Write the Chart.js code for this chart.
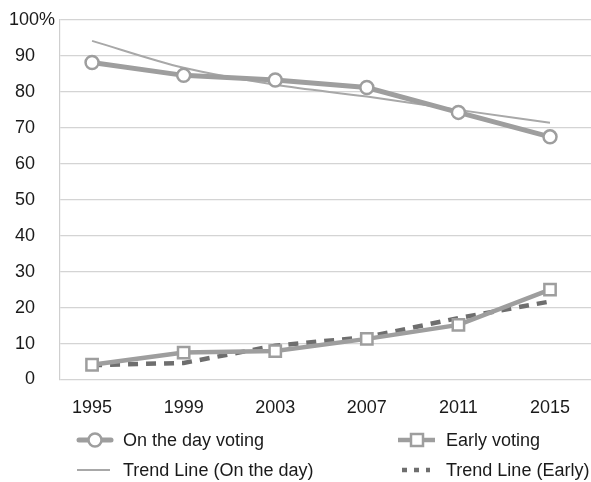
<!DOCTYPE html>
<html>
<head>
<meta charset="utf-8">
<script src="https://cdn.jsdelivr.net/npm/chart.js@4/dist/chart.umd.min.js"></script>
<style>
  html, body { margin: 0; padding: 0; background: #fff; }
  #wrap { position: relative; width: 591px; height: 482px; font-family: "Liberation Sans", Arial, sans-serif; color: #1a1a1a; }
  #chart { position: absolute; left: 0; top: 0; }
  .leg { position: absolute; font-size: 18px; line-height: 22px; height: 22px; white-space: nowrap; }
  .leg svg { position: absolute; left: 0; top: 0; }
  .leg span { position: absolute; top: 0; }
</style>
</head>
<body>
<div id="wrap">
  <canvas id="chart" width="591" height="482"></canvas>
  <div class="leg" style="left:76px; top:429px; width:260px;">
    <svg width="38" height="22"><line x1="3" y1="11" x2="35" y2="11" stroke="#9e9e9e" stroke-width="5" stroke-linecap="round"/><circle cx="19" cy="11" r="6.5" fill="#fff" stroke="#9e9e9e" stroke-width="2.5"/></svg>
    <span style="left:47px;">On the day voting</span>
  </div>
  <div class="leg" style="left:397px; top:429px; width:194px;">
    <svg width="40" height="22"><line x1="1" y1="11" x2="38" y2="11" stroke="#9e9e9e" stroke-width="4.5"/><rect x="14" y="5" width="12" height="12" fill="#fff" stroke="#9e9e9e" stroke-width="2.5"/></svg>
    <span style="left:49px;">Early voting</span>
  </div>
  <div class="leg" style="left:76px; top:459px; width:260px;">
    <svg width="38" height="22"><line x1="1" y1="11" x2="34" y2="11" stroke="#a8a8a8" stroke-width="2"/></svg>
    <span style="left:47px;">Trend Line (On the day)</span>
  </div>
  <div class="leg" style="left:397px; top:459px; width:194px;">
    <svg width="40" height="22"><line x1="5" y1="11" x2="33" y2="11" stroke="#6e6e6e" stroke-width="4.5" stroke-dasharray="5,7"/></svg>
    <span style="left:49px;">Trend Line (Early)</span>
  </div>
</div>
<script>
// Election years
const years = [1995, 1999, 2003, 2007, 2011, 2015];
// Share of votes cast on election day (%)
const onTheDay = [88.2, 84.6, 83.3, 81.2, 74.3, 67.5];
// Share of votes cast early (%)
const early = [4.1, 7.5, 7.9, 11.3, 15.2, 25.0];
// Fitted trend lines (%)
const trendOnTheDay = [94.2, 86.7, 82.0, 78.7, 75.0, 71.4];
const trendEarly = [4.0, 4.6, 9.4, 11.8, 17.1, 21.7];
// Y axis tick values
const yTicks = [0, 10, 20, 30, 40, 50, 60, 70, 80, 90, 100];

const pts = (vals) => years.map((yr, i) => ({ x: yr, y: vals[i] }));
const tickFont = { family: 'Liberation Sans', size: 18 };

// Stretch the plot area to the right edge of the canvas
const fullWidth = {
  id: 'fullWidth',
  afterLayout(chart) {
    const area = chart.chartArea;
    const x = chart.scales.x;
    const right = chart.width;
    if (area.right !== right) {
      area.right = right;
      area.width = right - area.left;
      x.right = right;
      x.width = right - x.left;
      x.configure();
    }
  }
};

new Chart(document.getElementById('chart'), {
  type: 'line',
  plugins: [fullWidth],
  data: {
    datasets: [
      {
        label: 'On the day voting',
        data: pts(onTheDay),
        borderColor: '#9e9e9e',
        borderWidth: 5,
        pointStyle: 'circle',
        pointRadius: 6.5,
        pointBorderWidth: 2.5,
        pointBackgroundColor: '#fff',
        pointBorderColor: '#9e9e9e',
        tension: 0
      },
      {
        label: 'Early voting',
        data: pts(early),
        borderColor: '#9e9e9e',
        borderWidth: 4.5,
        pointStyle: 'rect',
        pointRadius: 8,
        pointBorderWidth: 2.5,
        pointBackgroundColor: '#fff',
        pointBorderColor: '#9e9e9e',
        tension: 0
      },
      {
        label: 'Trend Line (On the day)',
        data: pts(trendOnTheDay),
        borderColor: '#a8a8a8',
        borderWidth: 2,
        pointRadius: 0,
        cubicInterpolationMode: 'monotone'
      },
      {
        label: 'Trend Line (Early)',
        data: pts(trendEarly),
        borderColor: '#6e6e6e',
        borderWidth: 4.5,
        borderDash: [10, 8],
        pointRadius: 0,
        tension: 0
      }
    ]
  },
  options: {
    responsive: false,
    animation: false,
    layout: { padding: { top: 20, right: 0, bottom: 0, left: 0 } },
    plugins: { legend: { display: false }, tooltip: { enabled: false } },
    scales: {
      x: {
        type: 'linear',
        min: 1993.6,
        max: 2016.79,
        afterBuildTicks: (axis) => { axis.ticks = years.map(v => ({ value: v })); },
        afterFit: (axis) => { axis.paddingLeft = 0; axis.paddingRight = 0; axis.height = 102.5; },
        grid: { display: false, drawTicks: false },
        border: { display: false },
        ticks: {
          padding: 18,
          color: '#1a1a1a',
          font: tickFont,
          callback: (v) => String(v)
        }
      },
      y: {
        min: 0,
        max: 100,
        afterBuildTicks: (axis) => { axis.ticks = yTicks.map(v => ({ value: v })); },
        afterFit: (axis) => { axis.paddingTop = 0; axis.paddingBottom = 0; axis.width = 60; },
        grid: { color: '#d4d4d4', lineWidth: 1.2, drawTicks: false },
        border: { display: true, color: '#cfcfcf', width: 1.2 },
        ticks: {
          padding: 5,
          color: '#1a1a1a',
          font: tickFont,
          callback: (v) => v === 100 ? '100%' : v + '    '
        }
      }
    }
  }
});
</script>
</body>
</html>
